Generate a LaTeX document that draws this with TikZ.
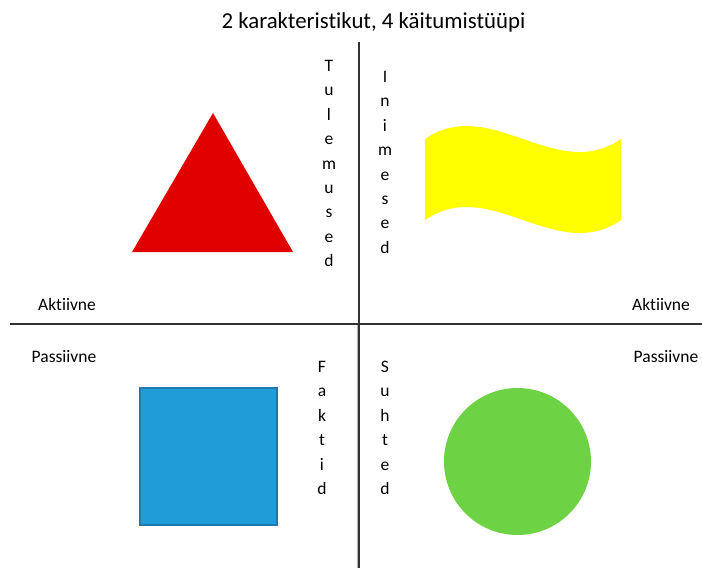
\documentclass[tikz,border=0pt]{standalone}
\usepackage{fontspec}
\setmainfont{Carlito}[RawFeature=-liga]
\definecolor{trired}{HTML}{E00000}
\definecolor{flagyellow}{HTML}{FFFF00}
\definecolor{sqblue}{HTML}{1E9DD8}
\definecolor{sqedge}{HTML}{1A7BAE}
\definecolor{circgreen}{HTML}{6DD244}
\begin{document}
\begin{tikzpicture}[x=1pt,y=-1pt,axis/.style={line width=1.2pt,draw=black!80},side/.style={font=\fontsize{17.5}{21}\selectfont,inner sep=0pt,anchor=base},vword/.style={align=center,font=\fontsize{17.5}{24.4}\selectfont,inner sep=0pt,anchor=north}]
\useasboundingbox (0,0) rectangle (702,568);
\node[font=\fontsize{22.8}{27}\selectfont,anchor=base] (title) at (373.5,28) {2 karakteristikut, 4 käitumistüüpi};
\coordinate (N) at (359,42);
\coordinate (S) at (359,568);
\coordinate (W) at (10,324);
\coordinate (E) at (702,324);
\coordinate (Cs) at (357.3,325);
\coordinate (Ss) at (357.3,568);
\draw[line width=1pt,black!30] (Cs) -- (Ss);
\draw[axis] (N) -- (S);
\draw[axis] (W) -- (E);
\fill[trired] (213,113) -- (293,252) -- (132,252) -- cycle;
\fill[flagyellow] (425,139) .. controls (490.3,94) and (555.7,184) .. (621,139) -- (621,220) .. controls (555.7,265) and (490.3,175) .. (425,220) -- cycle;
\filldraw[fill=sqblue,draw=sqedge,line width=1.2pt] (140,388) rectangle (277,525);
\fill[circgreen] (517.5,461.5) circle (73.5);
\node[vword] (tulemused) at (329,60) {T\\u\\l\\e\\m\\u\\s\\e\\d};
\node[vword] (inimesed) at (385,71) {I\\n\\i\\m\\e\\s\\e\\d};
\node[vword] (faktid) at (322,361) {F\\a\\k\\t\\i\\d};
\node[vword] (suhted) at (385,361) {S\\u\\h\\t\\e\\d};
\node[side] (aktL) at (67,310) {Aktiivne};
\node[side] (pasL) at (64,362) {Passiivne};
\node[side] (aktR) at (661,310) {Aktiivne};
\node[side] (pasR) at (666,362) {Passiivne};
\end{tikzpicture}
\end{document}
